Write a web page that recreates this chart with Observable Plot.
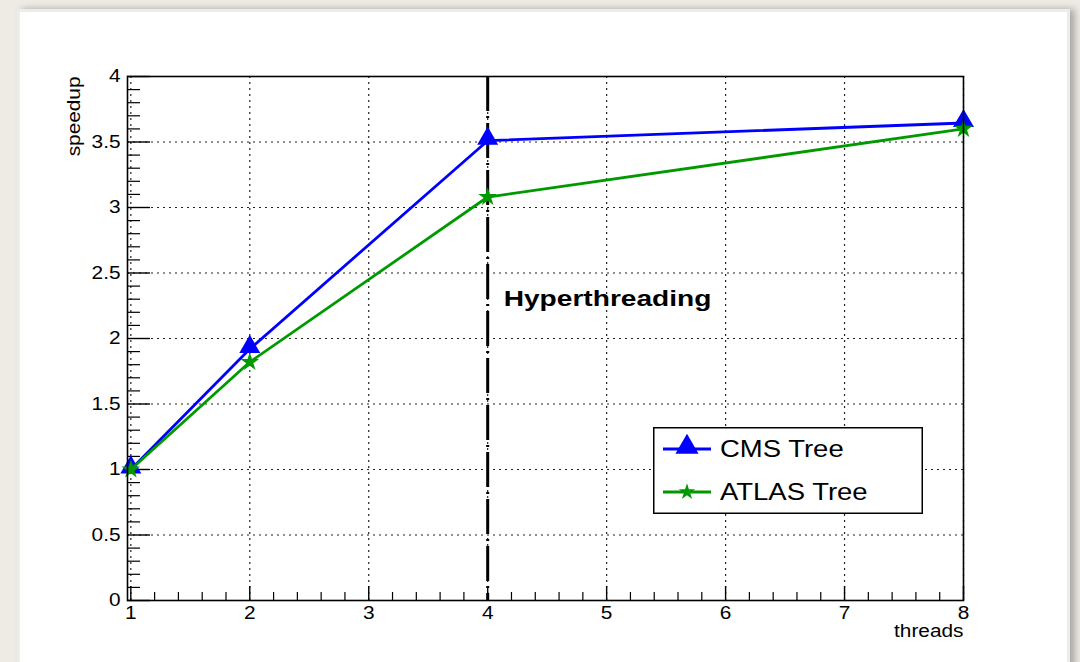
<!DOCTYPE html>
<html>
<head>
<meta charset="utf-8">
<script src="https://cdn.jsdelivr.net/npm/d3@7"></script>
<script src="https://cdn.jsdelivr.net/npm/@observablehq/plot@0.6"></script>
<style>
  html, body { margin: 0; padding: 0; width: 1080px; height: 662px; overflow: hidden; background: #eeeae4; font-family: "Liberation Sans", Arial, Helvetica, sans-serif; }
  #card { position: absolute; left: 17px; top: 9px; width: 1047px; height: 700px; background: #fff; border: 3px solid #e7efec; box-shadow: 5px 0 7px rgba(0,0,0,0.28); }
  #chart { position: absolute; left: 0; top: 0; }
  #legend { position: absolute; left: 653px; top: 427px; }
</style>
</head>
<body>
<div id="card"></div>
<div id="chart"></div>
<div id="legend"></div>
<script>
// ---- data ----
const threads = [1, 2, 4, 8];
const cmsSpeedup = [1.0, 1.92, 3.51, 3.645];
const atlasSpeedup = [1.0, 1.82, 3.08, 3.60];
const seriesNames = ["CMS Tree", "ATLAS Tree"];
const seriesColors = ["#0000ff", "#009a00"];
const seriesSymbols = ["triangle", "star"];
const xTickValues = [1, 2, 3, 4, 5, 6, 7, 8];
const yTickValues = [0, 0.5, 1, 1.5, 2, 2.5, 3, 3.5, 4];
const hyperLine = [4];
const annotation = [{x: 4, y: 2.3, label: "Hyperthreading"}];

const cms = threads.map((t, i) => ({threads: t, speedup: cmsSpeedup[i]}));
const atlas = threads.map((t, i) => ({threads: t, speedup: atlasSpeedup[i]}));

const W = 1080, H = 662;
const mL = 127, mR = 117, mT = 76, mB = 62;
const pw = W - mL - mR, ph = H - mT - mB;

const xMinor = d3.range(1, 8.0001, 0.2).filter(v => Math.abs(v - Math.round(v)) > 1e-6);
const yMinor = d3.range(0, 4.0001, 0.1).filter(v => Math.abs(v * 2 - Math.round(v * 2)) > 1e-6);

const font = "Liberation Sans, Arial, Helvetica, sans-serif";

const plot = Plot.plot({
  width: W, height: H,
  marginLeft: mL, marginRight: mR, marginTop: mT, marginBottom: mB,
  style: {background: "transparent", fontFamily: font, color: "#000"},
  x: {type: "linear", domain: [0.972, 8]},
  y: {type: "linear", domain: [0, 4]},
  marks: [
    // dotted grid
    Plot.ruleX(xTickValues, {stroke: "#222", strokeWidth: 1.2, strokeDasharray: "2,4"}),
    Plot.ruleY(yTickValues, {stroke: "#222", strokeWidth: 1.2, strokeDasharray: "2,4"}),
    // inner ticks
    Plot.tickX(xTickValues, {x: d => d, insetTop: ph - 14, stroke: "#000", strokeWidth: 1.4}),
    Plot.tickX(xMinor, {x: d => d, insetTop: ph - 8, stroke: "#000", strokeWidth: 1.2}),
    Plot.tickY(yTickValues, {y: d => d, insetRight: pw - 23, stroke: "#000", strokeWidth: 1.4}),
    Plot.tickY(yMinor, {y: d => d, insetRight: pw - 13, stroke: "#000", strokeWidth: 1.2}),
    // tick labels
    Plot.axisX({ticks: xTickValues, tickSize: 0, tickPadding: 6, fontSize: 17.5, label: null, tickFormat: d => String(d)}),
    Plot.axisY({ticks: yTickValues, tickSize: 0, tickPadding: 7, fontSize: 17.5, label: null, tickFormat: d => String(d)}),
    // hyperthreading marker line
    Plot.ruleX(hyperLine, {stroke: "#000", strokeWidth: 3, strokeDasharray: "35,5,2,5"}),
    Plot.text(annotation, {x: "x", y: "y", text: "label", dx: 16, textAnchor: "start", fontWeight: "bold", fontSize: 22.5, fill: "#000"}),
    // series
    Plot.line(cms, {x: "threads", y: "speedup", stroke: seriesColors[0], strokeWidth: 2.8}),
    Plot.dot(cms, {x: "threads", y: "speedup", symbol: seriesSymbols[0], r: 7.8, fill: seriesColors[0], stroke: "none", dy: -2}),
    Plot.line(atlas, {x: "threads", y: "speedup", stroke: seriesColors[1], strokeWidth: 2.8}),
    Plot.dot(atlas, {x: "threads", y: "speedup", symbol: seriesSymbols[1], r: 5.9, fill: seriesColors[1], stroke: "none"}),
    // frame
    Plot.frame({stroke: "#000", strokeWidth: 1.6}),
    // axis titles
    Plot.text(["speedup"], {frameAnchor: "top-left", dx: -60, rotate: -90, textAnchor: "end", fontSize: 17.5, fill: "#000"}),
    Plot.text(["threads"], {frameAnchor: "bottom-right", dy: 36, textAnchor: "end", fontSize: 17.5, fill: "#000"})
  ]
});

// widen glyphs horizontally (reference typeface is wider than Liberation Sans)
d3.select(plot).selectAll("text").each(function() {
  const k = this.textContent === annotation[0].label ? 1.25 : 1.19;
  let t = this.getAttribute("transform");
  if (!t) {
    const x = +(this.getAttribute("x") || 0), y = +(this.getAttribute("y") || 0);
    this.removeAttribute("x"); this.removeAttribute("y");
    t = `translate(${x},${y})`;
  }
  this.setAttribute("transform", `${t} scale(${k},1)`);
});
document.getElementById("chart").appendChild(plot);

// legend
const lw = 270, lh = 87;
const rows = seriesNames.map((n, i) => ({name: n, color: seriesColors[i], symbol: seriesSymbols[i], cy: 22 + i * 43}));
const symSize = {triangle: Math.PI * 8.6 * 8.6, star: Math.PI * 5.2 * 5.2};
const symType = {triangle: d3.symbolTriangle, star: d3.symbolStar};
const lsvg = d3.select("#legend").append("svg").attr("width", lw).attr("height", lh);
lsvg.append("rect").attr("x", 0.75).attr("y", 0.75).attr("width", lw - 1.5).attr("height", lh - 1.5)
  .attr("fill", "#fff").attr("stroke", "#000").attr("stroke-width", 1.5);
const g = lsvg.selectAll("g.row").data(rows).join("g").attr("class", "row");
g.append("line").attr("x1", 10).attr("x2", 58).attr("y1", d => d.cy).attr("y2", d => d.cy)
  .attr("stroke", d => d.color).attr("stroke-width", 2.8);
g.append("path").attr("d", d => d3.symbol(symType[d.symbol], symSize[d.symbol])())
  .attr("transform", d => `translate(34,${d.cy + (d.symbol === "triangle" ? -2 : 0)})`)
  .attr("fill", d => d.color);
g.append("text").attr("transform", d => `translate(67,${d.cy}) scale(1.17,1)`).attr("dy", "0.35em")
  .attr("font-family", font).attr("font-size", 23.5).attr("fill", "#000").text(d => d.name);
</script>
</body>
</html>
